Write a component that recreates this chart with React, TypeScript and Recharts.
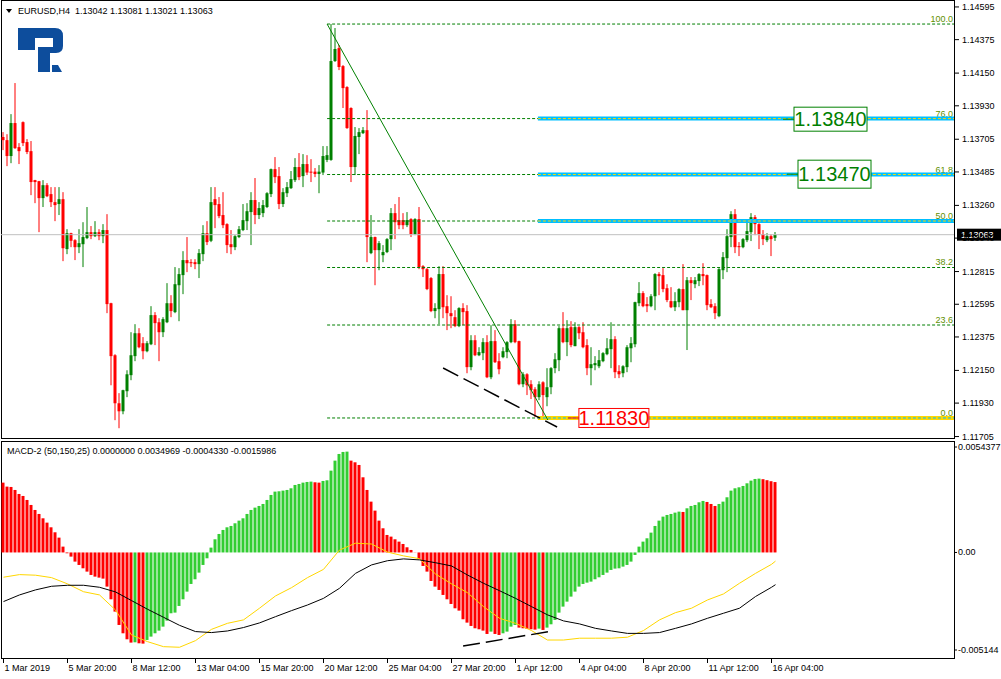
import React from "react";
import {
  ComposedChart,
  Bar,
  Line,
  XAxis,
  YAxis,
  ReferenceLine,
  ReferenceDot,
  Cell,
} from "recharts";

// EURUSD H4, 1 Mar - 16 Apr 2019
const timeLabels = [
  "1 Mar 2019", "5 Mar 20:00", "8 Mar 12:00", "13 Mar 04:00", "15 Mar 20:00",
  "20 Mar 12:00", "25 Mar 04:00", "27 Mar 20:00", "1 Apr 12:00", "4 Apr 04:00",
  "8 Apr 20:00", "11 Apr 12:00", "16 Apr 04:00",
];
const timeTicks = timeLabels.map((_, k) => k * 16);

const priceTicks = [
  1.11705, 1.1193, 1.1215, 1.12375, 1.12595, 1.12815, 1.1304,
  1.1326, 1.13485, 1.13705, 1.1393, 1.1415, 1.14375, 1.14595,
];

const opens = [
  1.1372, 1.13699, 1.13592, 1.13814, 1.13652, 1.1382, 1.13686, 1.13625, 1.1343, 1.13423,
  1.13309, 1.13396, 1.13336, 1.13282, 1.13269, 1.13302, 1.12966, 1.13073, 1.13026, 1.12979,
  1.12999, 1.1304, 1.1308, 1.13053, 1.1308, 1.13053, 1.13094, 1.12602, 1.12252, 1.11929,
  1.11875, 1.1201, 1.12118, 1.12246, 1.124, 1.12333, 1.12279, 1.12326, 1.12522, 1.12474,
  1.12407, 1.12474, 1.12602, 1.12542, 1.12723, 1.12791, 1.12892, 1.12878, 1.12878, 1.12865,
  1.12932, 1.13073, 1.13022, 1.13302, 1.13269, 1.13195, 1.13134, 1.12999, 1.12979, 1.13047,
  1.13094, 1.13154, 1.13215, 1.13296, 1.13195, 1.13208, 1.13249, 1.13336, 1.13504, 1.13457,
  1.13269, 1.13342, 1.13376, 1.1343, 1.13518, 1.13457, 1.13538, 1.13487, 1.13487, 1.13471,
  1.13481, 1.13566, 1.13566, 1.14231, 1.14318, 1.14197, 1.14056, 1.13915, 1.13518, 1.1372,
  1.13746, 1.13766, 1.12939, 1.13047, 1.12959, 1.12925, 1.12946, 1.13033, 1.13208, 1.13161,
  1.13161, 1.13127, 1.13168, 1.13067, 1.13168, 1.12851, 1.12831, 1.12771, 1.12549, 1.12562,
  1.12798, 1.12582, 1.12535, 1.12508, 1.12448, 1.12569, 1.12549, 1.12172, 1.12353, 1.12252,
  1.12266, 1.1234, 1.12104, 1.12347, 1.12212, 1.12239, 1.12273, 1.1234, 1.12461, 1.12347,
  1.12057, 1.12124, 1.12057, 1.12023, 1.1197, 1.1207, 1.1197, 1.12037, 1.12165, 1.12219,
  1.12434, 1.1234, 1.12441, 1.12313, 1.12441, 1.12407, 1.1232, 1.12165, 1.12185, 1.12178,
  1.12212, 1.12259, 1.12293, 1.1236, 1.12145, 1.12131, 1.12172, 1.12299, 1.12326, 1.12602,
  1.1267, 1.12596, 1.12582, 1.12649, 1.12798, 1.12791, 1.12703, 1.12616, 1.12575, 1.12609,
  1.12697, 1.12555, 1.12757, 1.1273, 1.12751, 1.12798, 1.12791, 1.12596, 1.12582, 1.12515,
  1.12824, 1.12905, 1.13047, 1.13201, 1.12986, 1.12979, 1.13026, 1.1308, 1.13181, 1.13134,
  1.13067, 1.13026, 1.13053, 1.13042,
];
const highs = [
  1.13753, 1.13739, 1.13874, 1.14083, 1.13679, 1.13825, 1.13706, 1.13693, 1.13432, 1.13425,
  1.1343, 1.1341, 1.13383, 1.13383, 1.13383, 1.13349, 1.131, 1.13076, 1.13033, 1.131,
  1.13147, 1.13249, 1.13121, 1.13154, 1.131, 1.13134, 1.13201, 1.12605, 1.12259, 1.11997,
  1.1202, 1.12151, 1.12407, 1.12461, 1.12434, 1.12374, 1.12347, 1.12582, 1.12542, 1.12501,
  1.12508, 1.12737, 1.12656, 1.12845, 1.12838, 1.12952, 1.13047, 1.12898, 1.12898, 1.12966,
  1.13127, 1.13154, 1.13383, 1.13383, 1.13316, 1.13349, 1.1314, 1.13094, 1.1306, 1.13121,
  1.13269, 1.13275, 1.13349, 1.13444, 1.13282, 1.13296, 1.13349, 1.13508, 1.13585, 1.13518,
  1.13376, 1.13417, 1.13491, 1.13578, 1.13612, 1.13605, 1.13598, 1.13571, 1.13511, 1.13531,
  1.13659, 1.13659, 1.1448, 1.14453, 1.14339, 1.14204, 1.14062, 1.1392, 1.13787, 1.1378,
  1.13787, 1.13901, 1.13195, 1.1305, 1.1302, 1.12993, 1.1304, 1.13242, 1.13269, 1.13316,
  1.13208, 1.13215, 1.13174, 1.13174, 1.13249, 1.12858, 1.12838, 1.12778, 1.12602, 1.12851,
  1.12851, 1.12656, 1.12649, 1.12555, 1.12575, 1.12602, 1.12589, 1.12387, 1.12387, 1.12306,
  1.12367, 1.12387, 1.12454, 1.12421, 1.12266, 1.12306, 1.12347, 1.12495, 1.12488, 1.1235,
  1.12138, 1.12131, 1.12084, 1.12037, 1.12077, 1.12077, 1.12165, 1.12172, 1.12266, 1.12448,
  1.12542, 1.12488, 1.12481, 1.12474, 1.12448, 1.12474, 1.1236, 1.12306, 1.12246, 1.12287,
  1.12273, 1.12367, 1.12474, 1.1238, 1.12185, 1.12185, 1.1232, 1.12374, 1.12612, 1.12744,
  1.12683, 1.12643, 1.12663, 1.12804, 1.12811, 1.12838, 1.1273, 1.1271, 1.12676, 1.12703,
  1.12865, 1.12778, 1.12778, 1.12778, 1.12804, 1.12871, 1.12795, 1.12629, 1.12602, 1.12838,
  1.12946, 1.131, 1.13221, 1.13235, 1.13013, 1.1304, 1.13154, 1.13208, 1.13195, 1.1314,
  1.13094, 1.13073, 1.13067, 1.13081,
];
const lows = [
  1.13632, 1.13524, 1.13544, 1.1364, 1.13538, 1.13659, 1.13605, 1.13329, 1.13275, 1.1308,
  1.13249, 1.13316, 1.13249, 1.13154, 1.13195, 1.12885, 1.12932, 1.12979, 1.12892, 1.12939,
  1.12845, 1.13033, 1.13033, 1.13047, 1.13026, 1.13006, 1.12535, 1.1205, 1.11815, 1.11761,
  1.11855, 1.1197, 1.12084, 1.12212, 1.12299, 1.12225, 1.12272, 1.1232, 1.1232, 1.12212,
  1.12374, 1.12468, 1.12508, 1.12535, 1.12481, 1.12663, 1.12811, 1.12845, 1.12831, 1.12771,
  1.12885, 1.12993, 1.13013, 1.13107, 1.13174, 1.13107, 1.12939, 1.12932, 1.12959, 1.1304,
  1.13087, 1.13094, 1.12993, 1.13134, 1.13168, 1.13181, 1.13242, 1.13316, 1.1341, 1.13235,
  1.13249, 1.13316, 1.1337, 1.13417, 1.1343, 1.13383, 1.13464, 1.13417, 1.1345, 1.13342,
  1.13464, 1.13551, 1.1356, 1.14225, 1.1417, 1.13915, 1.13775, 1.13417, 1.13464, 1.13605,
  1.1374, 1.12878, 1.12932, 1.12723, 1.12824, 1.12878, 1.12939, 1.12959, 1.13033, 1.131,
  1.131, 1.13114, 1.13047, 1.1306, 1.12831, 1.12778, 1.1269, 1.12542, 1.12501, 1.12461,
  1.12501, 1.12421, 1.12434, 1.12441, 1.12441, 1.12454, 1.12131, 1.12151, 1.12246, 1.12246,
  1.12219, 1.12098, 1.12091, 1.122, 1.12124, 1.12232, 1.12232, 1.12333, 1.12333, 1.1205,
  1.12037, 1.11984, 1.11957, 1.11836, 1.1195, 1.1183, 1.11909, 1.1199, 1.12131, 1.12145,
  1.12333, 1.12246, 1.12306, 1.12313, 1.1236, 1.12299, 1.12118, 1.1205, 1.12151, 1.12165,
  1.12205, 1.12252, 1.12165, 1.12098, 1.12098, 1.12104, 1.12138, 1.12205, 1.12306, 1.12582,
  1.12575, 1.12542, 1.12575, 1.12555, 1.12656, 1.12676, 1.12609, 1.12569, 1.12549, 1.12575,
  1.12555, 1.12287, 1.12623, 1.12703, 1.12717, 1.12723, 1.12555, 1.12569, 1.12495, 1.12508,
  1.12764, 1.12811, 1.12979, 1.12939, 1.12919, 1.12972, 1.13013, 1.1302, 1.1306, 1.12966,
  1.12993, 1.13013, 1.12919, 1.13021,
];
const closes = [
  1.13699, 1.13592, 1.13814, 1.13645, 1.13625, 1.13679, 1.13619, 1.13417, 1.13417, 1.13309,
  1.13396, 1.13322, 1.13282, 1.13262, 1.13302, 1.12972, 1.13073, 1.13022, 1.12979, 1.13006,
  1.13047, 1.1308, 1.13053, 1.1308, 1.13053, 1.13094, 1.12596, 1.12246, 1.11929, 1.11875,
  1.12017, 1.12124, 1.12252, 1.124, 1.12306, 1.12279, 1.12333, 1.12522, 1.12468, 1.12407,
  1.12495, 1.12602, 1.12549, 1.1273, 1.12798, 1.12892, 1.12871, 1.12871, 1.12865, 1.12939,
  1.13073, 1.13013, 1.13282, 1.13262, 1.13188, 1.13127, 1.12993, 1.12979, 1.13053, 1.131,
  1.13161, 1.13221, 1.13296, 1.13195, 1.13242, 1.13262, 1.13342, 1.13504, 1.1345, 1.13269,
  1.13349, 1.13383, 1.13437, 1.13518, 1.1345, 1.13538, 1.13481, 1.13481, 1.13471, 1.13487,
  1.13592, 1.13598, 1.14231, 1.14312, 1.14191, 1.14049, 1.1378, 1.13518, 1.13727, 1.13753,
  1.13766, 1.13047, 1.13047, 1.12959, 1.13006, 1.12946, 1.13033, 1.13208, 1.13147, 1.13127,
  1.13127, 1.13161, 1.13067, 1.13168, 1.12845, 1.12831, 1.12697, 1.12549, 1.12569, 1.12798,
  1.12575, 1.12535, 1.12515, 1.12448, 1.12569, 1.12542, 1.12172, 1.12353, 1.12252, 1.12273,
  1.1234, 1.12104, 1.12347, 1.12205, 1.12158, 1.12279, 1.1234, 1.12461, 1.1234, 1.12057,
  1.12124, 1.1205, 1.12017, 1.1197, 1.12057, 1.11984, 1.12037, 1.12165, 1.12225, 1.12434,
  1.1234, 1.12434, 1.1232, 1.12441, 1.124, 1.12306, 1.12165, 1.12192, 1.12199, 1.12219,
  1.12266, 1.12299, 1.1236, 1.12138, 1.12124, 1.12178, 1.12306, 1.12333, 1.12609, 1.1267,
  1.12582, 1.12582, 1.12649, 1.12798, 1.12784, 1.12697, 1.12623, 1.12575, 1.12616, 1.12697,
  1.12555, 1.12757, 1.12737, 1.12757, 1.12798, 1.12784, 1.12589, 1.12575, 1.12535, 1.12831,
  1.12912, 1.13053, 1.13201, 1.12979, 1.12979, 1.13033, 1.13087, 1.13181, 1.13134, 1.13067,
  1.13033, 1.13053, 1.13033, 1.13063,
];

// MACD-2 (50,150,25) histogram
const macdHist = [
  0.003469, 0.003271, 0.003254, 0.003105, 0.002906, 0.002807, 0.002608, 0.00236, 0.002111, 0.001913,
  0.001697, 0.001482, 0.00125, 0.001002, 0.000737, 0.00029, -0.000041, -0.000207, -0.000455, -0.000621,
  -0.000787, -0.000952, -0.001118, -0.001201, -0.00125, -0.0013, -0.001697, -0.002327, -0.002939, -0.003602,
  -0.004016, -0.004314, -0.004479, -0.004463, -0.004513, -0.004529, -0.004347, -0.004181, -0.004016, -0.003883,
  -0.003685, -0.003387, -0.003022, -0.002989, -0.002658, -0.002327, -0.001946, -0.001565, -0.001333, -0.001002,
  -0.000621, -0.00029, 0.00024, 0.000654, 0.000919, 0.001118, 0.00125, 0.001317, 0.001449, 0.001581,
  0.001697, 0.001913, 0.002111, 0.002227, 0.00231, 0.002409, 0.002608, 0.002857, 0.003022, 0.003039,
  0.003072, 0.003105, 0.003188, 0.003353, 0.003403, 0.003469, 0.003502, 0.003519, 0.003486, 0.003469,
  0.003552, 0.003585, 0.004065, 0.004562, 0.004893, 0.004993, 0.005009, 0.004562, 0.004479, 0.004347,
  0.003734, 0.003105, 0.002525, 0.002078, 0.001581, 0.001201, 0.000869, 0.000787, 0.000654, 0.000538,
  0.000422, 0.000257, 0.000124, 0.000008, -0.000339, -0.000671, -0.000952, -0.001416, -0.001697, -0.001863,
  -0.002111, -0.002327, -0.002559, -0.002774, -0.00289, -0.00332, -0.003486, -0.003651, -0.003767, -0.003817,
  -0.003883, -0.004049, -0.003933, -0.004049, -0.004099, -0.004016, -0.003933, -0.003685, -0.003602, -0.003734,
  -0.003767, -0.003801, -0.003817, -0.003834, -0.003784, -0.00385, -0.003734, -0.003569, -0.003353, -0.002989,
  -0.002691, -0.002443, -0.002194, -0.001946, -0.001697, -0.001565, -0.001499, -0.001449, -0.001333, -0.001234,
  -0.001118, -0.001002, -0.000869, -0.000803, -0.000787, -0.000704, -0.000621, -0.000455, -0.000124, 0.00029,
  0.000538, 0.000704, 0.000985, 0.001317, 0.001581, 0.00178, 0.001863, 0.001913, 0.001979, 0.002029,
  0.002012, 0.002194, 0.00231, 0.00236, 0.002492, 0.002559, 0.002509, 0.002409, 0.00231, 0.002409,
  0.002525, 0.002741, 0.003072, 0.003188, 0.003237, 0.003304, 0.003436, 0.003569, 0.003651, 0.003668,
  0.00364, 0.00359, 0.00354, 0.003497,
];

// the two MACD lines, read every 4 bars
const lineIdx = [
  0, 4, 8, 12, 16, 20, 24, 28, 32, 36, 40, 44, 48, 52, 56, 60, 64, 68, 72, 76, 80, 84, 88, 92, 96,
  100, 104, 108, 112, 116, 120, 124, 128, 132, 136, 140, 144, 148, 152, 156, 160, 164, 168, 172,
  176, 180, 184, 188, 192, 193,
];
const yellowVals = [
  -0.00123, -0.0011, -0.00113, -0.00125, -0.00156, -0.00195, -0.00211, -0.00286, -0.0041, -0.00443,
  -0.00468, -0.00471, -0.00438, -0.00382, -0.00352, -0.00335, -0.00277, -0.00216, -0.00175, -0.00125,
  -0.00084, 0.00012, 0.00046, 0.00042, 0.00002, -0.00017, -0.00031, -0.00107, -0.00156, -0.002,
  -0.00269, -0.00327, -0.00352, -0.00388, -0.00435, -0.00435, -0.00426, -0.00426, -0.00426, -0.00421,
  -0.00388, -0.00335, -0.00299, -0.00277, -0.00236, -0.00206, -0.00153, -0.00104, -0.00059, -0.00043,
];
const blackVals = [
  -0.00244, -0.00211, -0.00186, -0.00168, -0.00163, -0.00163, -0.00173, -0.00196, -0.00239, -0.00282,
  -0.00322, -0.00362, -0.00393, -0.00398, -0.0039, -0.00373, -0.0035, -0.00319, -0.00289, -0.00261,
  -0.00228, -0.00178, -0.00104, -0.00062, -0.00041, -0.00032, -0.00037, -0.00051, -0.00067, -0.00112,
  -0.00153, -0.0019, -0.00228, -0.00269, -0.0031, -0.0034, -0.00355, -0.00377, -0.0039, -0.00402,
  -0.00402, -0.00398, -0.00377, -0.00355, -0.00327, -0.00302, -0.00277, -0.00219, -0.00173, -0.0016,
];

const macdTicks = [-0.005144, 0, 0.0054377];
const macdTickLabels = ["-0.005144", "0.00", "0.0054377"];

// fibonacci between the 20 Mar high and the 2 Apr low
const fibHigh = 1.1448;
const fibLow = 1.1183;
const fibLevels = [0, 23.6, 38.2, 50, 61.8, 76, 100];
const bandLevels = [50, 61.8, 76];
const lastPrice = 1.13063;

const GREEN = "#008000";
const RED = "#ff0000";
const LIME = "#32cd32";
const FIBC = "#007f00";
const BLUE = "#00bfff";
const GOLD = "#ffd700";
const FONT = "'Liberation Sans', Arial, sans-serif";

const X_DOMAIN = [-0.625, 237.625];
const fibStart = 80.9;
const bandStart = 133.6;

const fibPrice = (lv: number) => fibLow + ((fibHigh - fibLow) * lv) / 100;

const candles = opens.map((o, i) => ({
  i,
  o,
  hi: highs[i],
  lo: lows[i],
  c: closes[i],
}));

const macdRows = macdHist.map((v, i) => ({
  i,
  hist: v,
  up: i > 0 && v > macdHist[i - 1],
  yel: null as number | null,
  blk: null as number | null,
}));
lineIdx.forEach((idx, k) => {
  macdRows[idx].yel = yellowVals[k];
  macdRows[idx].blk = blackVals[k];
});

function Candle(props: any) {
  const { x, y, width, height, payload } = props;
  if (!payload) return null;
  const top = Math.min(y, y + height);
  const h = Math.abs(height);
  const { o, hi, lo, c } = payload;
  const k = hi > lo ? h / (hi - lo) : 0;
  const yO = top + (hi - o) * k;
  const yC = top + (hi - c) * k;
  const col = c >= o ? GREEN : RED;
  const cx = x + width / 2;
  return (
    <g>
      <line x1={cx} x2={cx} y1={top} y2={top + Math.max(h, 1)} stroke={col} strokeWidth={1} />
      <rect
        x={x}
        y={Math.min(yO, yC)}
        width={width}
        height={Math.max(1, Math.abs(yO - yC))}
        fill={col}
      />
    </g>
  );
}

function PriceTick(props: any) {
  const { x, y, payload } = props;
  return (
    <g>
      <line x1={x + 1} x2={x + 5} y1={y} y2={y} stroke="#000" />
      <text x={x + 8} y={y + 3} fontSize={9} fontFamily={FONT} fill="#000">
        {payload.value.toFixed(5)}
      </text>
    </g>
  );
}

function MacdTick(props: any) {
  const { x, y, payload } = props;
  const k = macdTicks.indexOf(payload.value);
  const dy = k === 2 ? 4 : k === 0 ? -6 : 0;
  return (
    <g>
      <line x1={x + 1} x2={x + 3} y1={y + dy} y2={y + dy} stroke="#000" />
      <text x={x + 4} y={y + dy + 3} fontSize={9} fontFamily={FONT} fill="#000">
        {macdTickLabels[k]}
      </text>
    </g>
  );
}

function TimeTick(props: any) {
  const { x, y, payload } = props;
  const k = Math.round(payload.value / 16);
  return (
    <g>
      <line x1={x} x2={x} y1={y + 2} y2={y + 7} stroke="#000" />
      <text x={x + 1} y={y + 15} fontSize={9} fontFamily={FONT} fill="#000">
        {timeLabels[k]}
      </text>
    </g>
  );
}

function FibLabel(props: any) {
  const vb = props.viewBox || {};
  return (
    <text
      x={vb.x + vb.width - 1}
      y={vb.y - 2}
      textAnchor="end"
      fontSize={9}
      fontFamily={FONT}
      fill="#5f8f00"
    >
      {props.txt}
    </text>
  );
}

function LastPriceLabel(props: any) {
  const vb = props.viewBox || {};
  const x0 = vb.x + vb.width + 3;
  return (
    <g>
      <rect x={x0} y={vb.y - 6} width={44} height={12} fill="#000" />
      <text x={x0 + 4} y={vb.y + 3.5} fontSize={9} fontFamily={FONT} fill="#fff">
        {lastPrice.toFixed(5)}
      </text>
    </g>
  );
}

function PriceBox(props: any) {
  const { cx, cy, txt, col, w, h } = props;
  if (cx == null) return null;
  return (
    <g>
      <line x1={cx - w / 2 - 11} x2={cx - w / 2} y1={cy} y2={cy} stroke={col} strokeWidth={1} />
      <rect x={cx - w / 2} y={cy - h / 2} width={w} height={h} fill="#fff" stroke={col} strokeWidth={1} />
      <text
        x={cx}
        y={cy + 7}
        textAnchor="middle"
        fontSize={20}
        fontFamily={FONT}
        fill={col}
      >
        {txt}
      </text>
    </g>
  );
}

const frame = (top: number, height: number): React.CSSProperties => ({
  position: "absolute",
  left: 1,
  top,
  width: 954,
  height,
  border: "1px solid #000",
  boxSizing: "border-box",
});

export default function App() {
  return (
    <div
      style={{
        position: "absolute",
        left: 0,
        top: 0,
        width: 1001,
        height: 679,
        background: "#fff",
        overflow: "hidden",
        fontFamily: FONT,
      }}
    >
      <div style={frame(0, 439)} />
      <div style={frame(441, 218)} />

      <svg style={{ position: "absolute", left: 0, top: 0 }} width={400} height={460}>
        <polygon points="6,9 12,9 9,13" fill="#000" />
        <text x={18} y={14} fontSize={9} fontFamily={FONT} fill="#000" style={{ whiteSpace: "pre" }}>
          EURUSD,H4  1.13042 1.13081 1.13021 1.13063
        </text>
        <g fill="#0d4d9c">
          <path d="M18 28 H55 Q63 28 63 36 V46 Q63 53 56 53 H38 V47 H53 V38 H35 V50 H18 Z" />
          <rect x={38} y={52} width={12} height={20} />
          <path d="M52 65 H58 L62 72 H52 Z" />
        </g>
        <text x={7} y={454} fontSize={9} fontFamily={FONT} fill="#000">
          MACD-2 (50,150,25) 0.0000000 0.0034969 -0.0004330 -0.0015986
        </text>
      </svg>

      <div style={{ position: "absolute", left: 0, top: 0 }}>
        <ComposedChart
          width={1001}
          height={446}
          data={candles}
          margin={{ top: 1, right: 0, bottom: 9, left: 1 }}
        >
          <XAxis dataKey="i" type="number" domain={X_DOMAIN} allowDataOverflow hide />
          <YAxis
            orientation="right"
            type="number"
            domain={[1.11702, 1.14635]}
            allowDataOverflow
            ticks={priceTicks}
            interval={0}
            width={47}
            axisLine={false}
            tickLine={false}
            tickSize={0}
            tickMargin={0}
            tick={<PriceTick />}
          />
          <ReferenceLine
            y={lastPrice}
            stroke="#c0c0c0"
            strokeWidth={1}
            label={<LastPriceLabel />}
          />
          <Bar
            dataKey={(d: any) => [d.lo, d.hi]}
            barSize={3}
            shape={<Candle />}
            isAnimationActive={false}
          />
          {fibLevels.map((lv) => (
            <ReferenceLine
              key={"f" + lv}
              segment={[
                { x: fibStart, y: fibPrice(lv) },
                { x: X_DOMAIN[1], y: fibPrice(lv) },
              ]}
              stroke={FIBC}
              strokeDasharray="3 2"
              label={<FibLabel txt={lv.toFixed(1)} />}
            />
          ))}
          {bandLevels.map((lv) => (
            <ReferenceLine
              key={"b" + lv}
              segment={[
                { x: bandStart, y: fibPrice(lv) },
                { x: X_DOMAIN[1], y: fibPrice(lv) },
              ]}
              stroke={BLUE}
              strokeWidth={4}
            />
          ))}
          {bandLevels.map((lv) => (
            <ReferenceLine
              key={"bd" + lv}
              segment={[
                { x: bandStart, y: fibPrice(lv) },
                { x: X_DOMAIN[1], y: fibPrice(lv) },
              ]}
              stroke={GOLD}
              strokeDasharray="3 2"
            />
          ))}
          <ReferenceLine
            segment={[
              { x: bandStart, y: fibLow },
              { x: X_DOMAIN[1], y: fibLow },
            ]}
            stroke={GOLD}
            strokeWidth={4}
          />
          <ReferenceLine
            segment={[
              { x: bandStart, y: fibLow },
              { x: X_DOMAIN[1], y: fibLow },
            ]}
            stroke={BLUE}
            strokeDasharray="3 2"
          />
          <ReferenceLine
            segment={[
              { x: fibStart, y: fibHigh },
              { x: 136.1, y: 1.11816 },
            ]}
            stroke={GREEN}
            strokeWidth={1}
          />
          <ReferenceLine
            segment={[
              { x: 109.9, y: 1.12166 },
              { x: 138.4, y: 1.11769 },
            ]}
            stroke="#000"
            strokeWidth={1.5}
            strokeDasharray="17 6"
          />
          <ReferenceDot
            x={206.75}
            y={1.1384}
            r={1}
            shape={(p: any) => <PriceBox {...p} txt="1.13840" col={GREEN} w={73} h={24} />}
          />
          <ReferenceDot
            x={207.75}
            y={1.1347}
            r={1}
            shape={(p: any) => <PriceBox {...p} txt="1.13470" col={GREEN} w={73} h={28} />}
          />
          <ReferenceDot
            x={152.6}
            y={fibLow}
            r={1}
            shape={(p: any) => <PriceBox {...p} txt="1.11830" col={RED} w={70} h={19} />}
          />
        </ComposedChart>
      </div>

      <div style={{ position: "absolute", left: 0, top: 440 }}>
        <ComposedChart
          width={1001}
          height={239}
          data={macdRows}
          margin={{ top: 3, right: 0, bottom: 0, left: 1 }}
        >
          <XAxis
            dataKey="i"
            type="number"
            domain={X_DOMAIN}
            allowDataOverflow
            ticks={timeTicks}
            interval={0}
            height={23}
            axisLine={false}
            tickLine={false}
            tickSize={0}
            tickMargin={0}
            tick={<TimeTick />}
          />
          <YAxis
            orientation="right"
            type="number"
            domain={[-0.005144, 0.0054377]}
            allowDataOverflow
            ticks={macdTicks}
            interval={0}
            width={47}
            axisLine={false}
            tickLine={false}
            tickSize={0}
            tickMargin={0}
            tick={<MacdTick />}
          />
          <Bar dataKey="hist" barSize={3} isAnimationActive={false}>
            {macdRows.map((r) => (
              <Cell key={r.i} fill={r.up ? LIME : RED} />
            ))}
          </Bar>
          <Line
            dataKey="yel"
            stroke={GOLD}
            strokeWidth={1}
            dot={false}
            connectNulls
            isAnimationActive={false}
          />
          <Line
            dataKey="blk"
            stroke="#000"
            strokeWidth={1}
            dot={false}
            connectNulls
            isAnimationActive={false}
          />
          <ReferenceLine
            segment={[
              { x: 114.9, y: -0.004645 },
              { x: 137.4, y: -0.0039 },
            ]}
            stroke="#000"
            strokeWidth={1.5}
            strokeDasharray="17 6"
          />
        </ComposedChart>
      </div>
    </div>
  );
}
